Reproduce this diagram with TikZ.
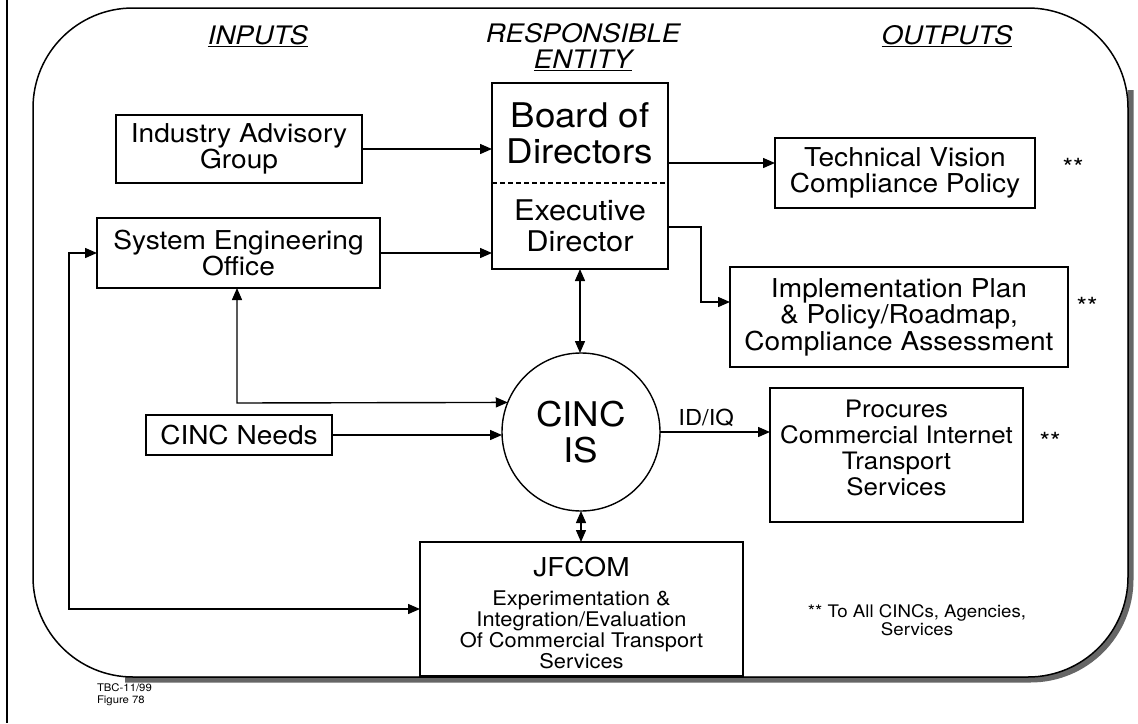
\documentclass[tikz,border=0pt]{standalone}
\usepackage{fontspec}
\setmainfont{TeX Gyre Heros}[FakeStretch=1.08]
\usetikzlibrary{arrows.meta}
\newcommand{\fs}[2]{\fontsize{#1}{#2}\selectfont}
\begin{document}
\begin{tikzpicture}[x=1pt,y=-1pt,
  box/.style={draw, line width=1.4pt, inner sep=0pt, outer sep=0pt, align=center, font=\fs{26}{26.5}},
  txt/.style={inner sep=0pt, outer sep=0pt, align=center},
  arr/.style={line width=1.4pt, -{Triangle[length=12pt,width=10pt]}},
  dbl/.style={line width=1.4pt, {Triangle[length=12pt,width=10pt]}-{Triangle[length=12pt,width=10pt]}},
  head/.style={inner sep=0pt, align=center, font=\fs{25.5}{26}\itshape},
  stars/.style={inner sep=0pt, font=\fs{25}{25}},
]
\useasboundingbox (0,0) rectangle (1138,723);
\fill[white] (0,0) rectangle (1138,723);

% frame
\draw[line width=1.2pt] (7,0) -- (7,723);
\draw[line width=6pt, black!60, rounded corners=100pt] (1130.5,90) -- (1130.5,679.5) -- (125,679.5);
\draw[line width=1.5pt, rounded corners=100pt] (33,8) rectangle (1128,677);

% headings
\node[head] (hin) at (258,36) {\underline{INPUTS}};
\node[head] (hre) at (583,47) {RESPONSIBLE\\\underline{ENTITY}};
\node[head] (hout) at (947,36) {\underline{OUTPUTS}};

% boxes
\node[box, minimum width=246pt, minimum height=68pt] (iag) at (239,149) {Industry Advisory\\Group};
\node[txt, minimum width=176pt, minimum height=100pt, font=\fs{34}{36}] (bod) at (580,133) {Board of\\Directors};
\node[txt, minimum width=176pt, minimum height=86pt, font=\fs{28.5}{31}] (ed) at (580,226) {Executive\\Director};
\draw[line width=1.4pt] (bod.north west) rectangle (ed.south east);
\draw[line width=1.2pt, dash pattern=on 5pt off 3pt] (bod.south west) -- (bod.south east);

\node[box, minimum width=260pt, minimum height=70pt] (tech) at (905,173) {Technical Vision\\Compliance Policy};
\node[box, minimum width=338pt, minimum height=100pt] (impl) at (899,317) {Implementation Plan\\\& Policy/Roadmap,\\Compliance Assessment};
\node[box, minimum width=283pt, minimum height=70pt] (seo) at (238.5,253) {System Engineering\\Office};
\node[box, minimum width=186pt, minimum height=40pt] (needs) at (239,435) {CINC Needs};
\node[draw, line width=1.4pt, circle, minimum size=158pt, inner sep=0pt, outer sep=0pt, align=center, font=\fs{34}{36}] (cinc) at (581,432) {CINC\\IS};

\node[box, minimum width=253pt, minimum height=134pt] (proc) at (896.5,455) {};
\node[txt, font=\fs{24}{25.7}] (proct) at (896.5,448) {Procures\\Commercial Internet\\Transport\\Services};

\node[box, minimum width=323pt, minimum height=134pt] (jf) at (581.5,609) {};
\node[txt, font=\fs{26}{26}] (jft) at (581.5,567) {JFCOM};
\node[txt, font=\fs{20.2}{21}] (jfs) at (581.5,630) {Experimentation \&\\Integration/Evaluation\\Of Commercial Transport\\Services};

% stars and notes
\node[stars] (s1) at (1073,167) {**};
\node[stars] (s2) at (1087,306) {**};
\node[stars] (s3) at (1050,441) {**};
\node[txt, font=\fs{17.3}{18}] (foot) at (917,620) {** To All CINCs, Agencies,\\Services};
\node[txt, anchor=north west, align=left, font=\fs{10.5}{12}] (tbc) at (97,684) {TBC-11/99\\Figure 78};

% connectors
\draw[arr] (iag.east) -- (iag.east -| bod.west);
\draw[arr] (bod.east |- 0,163) -- (tech.west |- 0,163);
\draw[arr] (ed.east |- 0,227) -| (701,302) -- (impl.west |- 0,302);
\draw[arr] (seo.east) -- (seo.east -| ed.west);
\draw[dbl] (seo.west) -- (69,253) -- (69,609) -- (jf.west);
\draw[dbl] (seo.south -| 237,0) -- (237,403) -- (cinc.158.5);
\draw[arr] (needs.east) -- (needs.east -| cinc.west);
\draw[dbl] (ed.south) -- (ed.south |- cinc.north);
\draw[arr] (cinc.east) -- (cinc.east -| proc.west) node[pos=0.42, above=5pt, inner sep=0pt, font=\fs{22}{22}] (idiq) {ID/IQ};
\draw[dbl] (cinc.south) -- (cinc.south |- jf.north);
\end{tikzpicture}
\end{document}
